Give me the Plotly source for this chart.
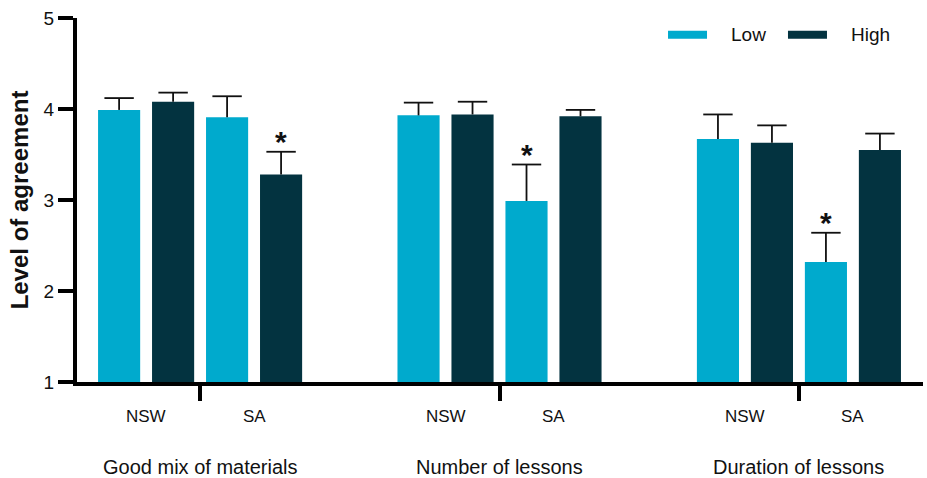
import plotly.graph_objects as go

# Survey responses: mean level of agreement (1-5) with upper SEM
topics = ["Good mix of materials", "Number of lessons", "Duration of lessons"]
states = ["NSW", "SA"]
low_mean = [3.99, 3.91, 3.93, 2.99, 3.67, 2.32]   # order: topic x state
low_err = [0.13, 0.23, 0.14, 0.40, 0.27, 0.32]
high_mean = [4.08, 3.28, 3.94, 3.92, 3.63, 3.55]
high_err = [0.10, 0.25, 0.14, 0.07, 0.19, 0.18]
low_sig = [False, False, False, True, False, True]
high_sig = [False, True, False, False, False, False]
series = ["Low", "High"]

LOW_COLOR = "#00AACD"
HIGH_COLOR = "#033340"
INK = "#111111"
FONT = "Arial, Liberation Sans, sans-serif"

GROUP_STEP = 5.546  # spacing between topic groups, in bar slots
BAR_W = 0.78

low_x, high_x, state_x, divider_x, topic_x = [], [], [], [], []
for g in range(len(topics)):
    base = g * GROUP_STEP
    for s in range(len(states)):
        lx = base + 2 * s
        low_x.append(lx)
        high_x.append(lx + 1)
        state_x.append(lx + 0.5)
    divider_x.append(base + 1.5)
    topic_x.append(base + 1.5)

fig = go.Figure()


def add_series(xs, means, errs, color, name):
    fig.add_trace(go.Bar(
        x=xs, y=[v - 1 for v in means], base=1, width=BAR_W, name=name,
        marker=dict(color=color, line=dict(width=0)), showlegend=False,
        hoverinfo="skip",
    ))
    # upper-only error bars: stem from the bar top to mean + err, then a cap
    sx, sy = [], []
    for x, m, e in zip(xs, means, errs):
        sx += [x, x, None]
        sy += [m, m + e, None]
    fig.add_trace(go.Scatter(x=sx, y=sy, mode="lines", showlegend=False,
                             line=dict(color=INK, width=1.8), hoverinfo="skip"))
    fig.add_trace(go.Scatter(x=xs, y=[m + e for m, e in zip(means, errs)], mode="markers",
                             showlegend=False, hoverinfo="skip",
                             marker=dict(symbol="line-ew", size=21,
                                         line=dict(color=INK, width=1.8))))


add_series(low_x, low_mean, low_err, LOW_COLOR, series[0])
add_series(high_x, high_mean, high_err, HIGH_COLOR, series[1])

annotations = []
# significance markers
for xs, means, errs, sig in [(low_x, low_mean, low_err, low_sig),
                             (high_x, high_mean, high_err, high_sig)]:
    for x, m, e, s in zip(xs, means, errs, sig):
        if s:
            annotations.append(dict(x=x, y=m + e, xref="x", yref="y", text="<b>*</b>",
                                    showarrow=False, yanchor="bottom", yshift=-8,
                                    font=dict(family=FONT, size=30, color=INK)))
# state labels
for i, x in enumerate(state_x):
    annotations.append(dict(x=x, y=-0.096, xref="x", yref="paper", text=states[i % 2],
                            showarrow=False, yanchor="middle",
                            font=dict(family=FONT, size=17, color=INK)))
# topic labels
for x, t in zip(topic_x, topics):
    annotations.append(dict(x=x, y=-0.234, xref="x", yref="paper", text=t,
                            showarrow=False, yanchor="middle",
                            font=dict(family=FONT, size=20, color=INK)))

# legend: wide swatches with labels, top right
shapes = []
legend_items = [(series[0], LOW_COLOR, 0.6986, 0.7447, 0.7707),
                (series[1], HIGH_COLOR, 0.8404, 0.8865, 0.9125)]
for name, col, x0, x1, tx in legend_items:
    shapes.append(dict(type="rect", xref="paper", yref="paper", x0=x0, x1=x1,
                       y0=0.943, y1=0.965, fillcolor=col, line=dict(width=0)))
    annotations.append(dict(x=tx, y=0.955, xref="paper", yref="paper", text=name,
                            showarrow=False, xanchor="left", yanchor="middle",
                            font=dict(family=FONT, size=19, color=INK)))

fig.update_layout(
    width=927, height=478,
    margin=dict(l=77, r=4, t=18, b=96),
    paper_bgcolor="white", plot_bgcolor="white",
    barmode="overlay",
    font=dict(family=FONT, color=INK),
    showlegend=False,
    annotations=annotations,
    shapes=shapes,
    xaxis=dict(range=[-0.78, 14.89], showgrid=False, zeroline=False,
               showline=True, linecolor="black", linewidth=4,
               tickvals=divider_x, ticktext=["", "", ""], ticks="outside",
               ticklen=15, tickwidth=4, tickcolor="black"),
    yaxis=dict(range=[1, 5], tickvals=[1, 2, 3, 4, 5], showgrid=False, zeroline=False,
               showline=True, linecolor="black", linewidth=4,
               ticks="outside", ticklen=15, tickwidth=4, tickcolor="black",
               tickfont=dict(family=FONT, size=19, color=INK),
               title=dict(text="<b>Level of agreement</b>", standoff=9,
                          font=dict(family=FONT, size=24, color=INK))),
)

fig.write_html("out.html")
